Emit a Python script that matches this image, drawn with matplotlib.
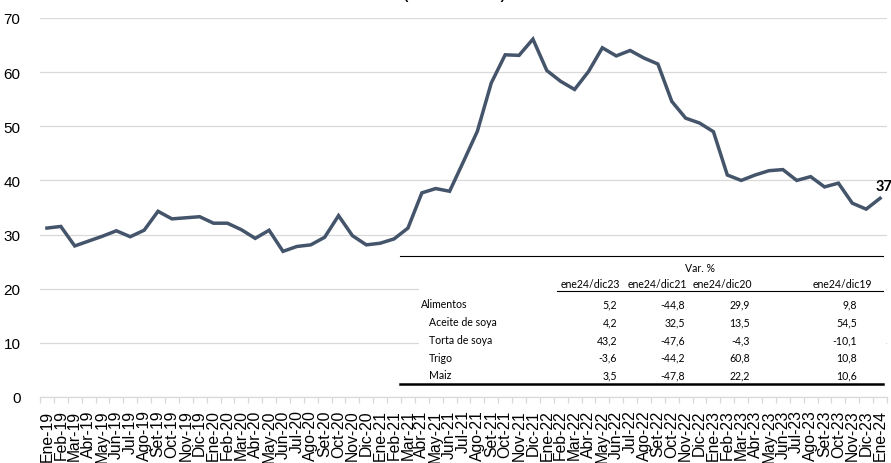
import matplotlib.pyplot as plt
import numpy as np
from matplotlib.patches import Rectangle

# Monthly index, Ene-19 .. Ene-24
meses = ['Ene', 'Feb', 'Mar', 'Abr', 'May', 'Jun', 'Jul', 'Ago', 'Set', 'Oct', 'Nov', 'Dic']
etiquetas = [f'{m}-{a}' for a in range(19, 24) for m in meses] + ['Ene-24']

valores = [31.2, 31.5, 27.9, 28.8, 29.7, 30.7, 29.6, 30.8, 34.3, 32.9, 33.1, 33.3,
           32.1, 32.1, 30.9, 29.3, 30.8, 26.9, 27.8, 28.1, 29.5, 33.5, 29.8, 28.1,
           28.4, 29.2, 31.2, 37.7, 38.5, 38.0, 43.5, 49.1, 58.0, 63.2, 63.1, 66.1,
           60.3, 58.3, 56.8, 60.1, 64.5, 63.0, 64.0, 62.6, 61.5, 54.6, 51.5, 50.6,
           49.0, 41.0, 40.0, 41.0, 41.8, 42.0, 40.0, 40.7, 38.8, 39.5, 35.8, 34.7,
           36.7]

# Inset table
tabla_titulo = 'Var. %'
tabla_cols = ['ene24/dic23', 'ene24/dic21', 'ene24/dic20', 'ene24/dic19']
tabla_filas = ['Alimentos', 'Aceite de soya', 'Torta de soya', 'Trigo', 'Maiz']
tabla_vals = [['5,2', '-44,8', '29,9', '9,8'],
              ['4,2', '32,5', '13,5', '54,5'],
              ['43,2', '-47,6', '-4,3', '-10,1'],
              ['-3,6', '-44,2', '60,8', '10,8'],
              ['3,5', '-47,8', '22,2', '10,6']]

W, H = 891, 464
fig = plt.figure(figsize=(W / 100, H / 100), dpi=100)
ax = fig.add_axes([40 / W, 66 / H, 847 / W, 379 / H])

x = np.arange(len(valores))
ax.plot(x, valores, color='#44546a', linewidth=2.5, solid_joinstyle='miter', zorder=3)
ax.annotate(f'{valores[-1]:.0f}', xy=(x[-1], valores[-1]), xytext=(-3, 9),
            textcoords='offset points', ha='left', va='center',
            fontsize=10.5, fontweight='bold', family='Lato', annotation_clip=False)

ax.set_xlim(-0.5, len(valores) - 0.5)
ax.set_ylim(0, 70)
ax.set_yticks(range(0, 71, 10))
ax.yaxis.grid(True, color='#d9d9d9', linewidth=0.9)
ax.set_axisbelow(True)
for s in ['top', 'right', 'left']:
    ax.spines[s].set_visible(False)
ax.spines['bottom'].set_color('#d9d9d9')
ax.spines['bottom'].set_linewidth(0.9)

ax.set_xticks(x)
ax.set_xticklabels(etiquetas, rotation=90, fontsize=11.3, family='Liberation Sans')
ax.set_xticks(np.arange(-0.5, len(valores), 1), minor=True)
ax.tick_params(axis='x', which='major', length=0, pad=9)
ax.tick_params(axis='x', which='minor', length=4, color='#d9d9d9', width=0.9)
ax.tick_params(axis='y', length=0, pad=14, labelsize=11)
for t in ax.get_yticklabels():
    t.set_family('Liberation Sans')

# title (mostly outside the canvas in the reference, only the bracket tails show)
fig.text(454 / W, 1.0 + 1.0 / H, '(2014-2016=100)', ha='center', va='baseline',
         fontsize=9.5, fontweight='bold', family='Liberation Sans')

# table, drawn in pixel coordinates of the figure
def px(xp, yp):
    return xp / W, 1 - yp / H

fig.patches.append(Rectangle(px(419, 385), 467 / W, 128 / H, transform=fig.transFigure,
                             facecolor='white', edgecolor='none', zorder=2))
tf = dict(family='Lato', fontsize=7.6, zorder=5)
fig.add_artist(plt.Line2D([400 / W, 883 / W], [1 - 257 / H] * 2, color='black', lw=0.8, zorder=5))
fig.add_artist(plt.Line2D([557 / W, 883 / W], [1 - 292 / H] * 2, color='black', lw=0.8, zorder=5))
fig.add_artist(plt.Line2D([400 / W, 883 / W], [1 - 385 / H] * 2, color='black', lw=1.8, zorder=5))
fig.text(*px(700, 268), tabla_titulo, ha='center', va='center', **tf)
col_c = [590, 657, 722, 842]
col_r = [617, 685, 750, 857]
for c, nombre in zip(col_c, tabla_cols):
    fig.text(*px(c, 285), nombre, ha='center', va='center', **tf)
fila_y = [305, 322.7, 340.5, 358.2, 375.8]
for i, (fila, yv) in enumerate(zip(tabla_filas, fila_y)):
    fig.text(*px(421 if i == 0 else 429, yv), fila, ha='left', va='center', **tf)
    for r, v in zip(col_r, tabla_vals[i]):
        fig.text(*px(r, yv), v, ha='right', va='center', **tf)

fig.savefig('out.png', dpi=100)
